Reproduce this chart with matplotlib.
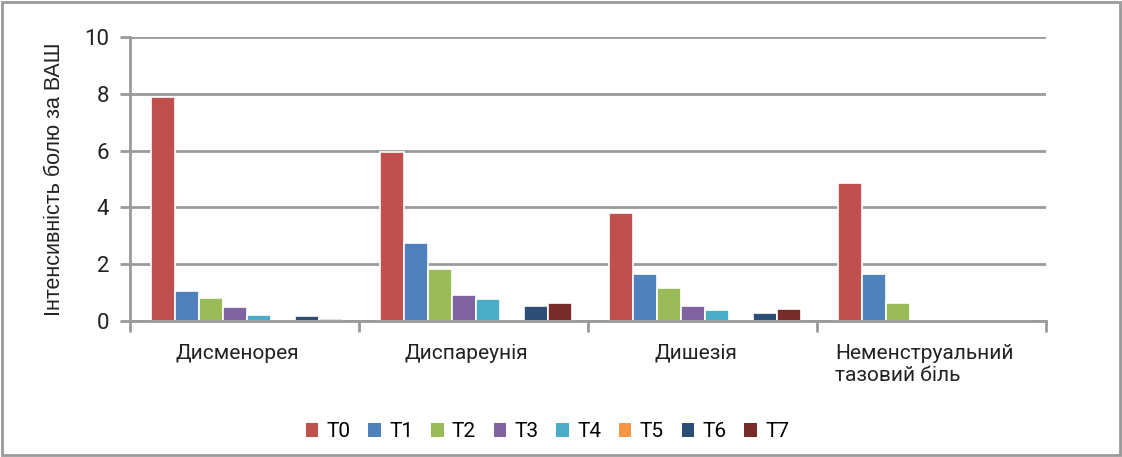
import matplotlib.pyplot as plt
import numpy as np
from matplotlib.patches import Rectangle

# data
categories = ['Дисменорея', 'Диспареунія', 'Дишезія', 'Неменструальний\nтазовий біль']
series = ['T0', 'T1', 'T2', 'T3', 'T4', 'T5', 'T6', 'T7']
t0 = [7.9, 5.95, 3.8, 4.85]
t1 = [1.05, 2.75, 1.65, 1.65]
t2 = [0.8, 1.83, 1.16, 0.63]
t3 = [0.5, 0.92, 0.53, 0.05]
t4 = [0.21, 0.77, 0.39, 0.03]
t5 = [0.0, 0.0, 0.0, 0.0]
t6 = [0.17, 0.53, 0.28, 0.0]
t7 = [0.07, 0.63, 0.42, 0.0]
values = [t0, t1, t2, t3, t4, t5, t6, t7]
colors = ['#C0504D', '#4F81BD', '#9BBB59', '#8064A2', '#4BACC6', '#F79646', '#2C4D75', '#772C2A']

tick_font = 'Roboto'
grey = '#9a9a9a'

fig = plt.figure(figsize=(11.22, 4.57), dpi=100)
ax = fig.add_axes([0.1159, 0.2976, 0.8164, 0.6214])

# outer frame
fig.patches.append(Rectangle((0.002, 0.004), 0.996, 0.992, transform=fig.transFigure,
                             fill=False, edgecolor=grey, linewidth=2))

x = np.arange(len(categories))
w = 0.105
for i, (name, vals) in enumerate(zip(series, values)):
    ax.bar(x + (i - 3.5) * w + 0.01, vals, w, color=colors[i], edgecolor='white',
           linewidth=1.2, label=name, zorder=2)

ax.set_xlim(-0.5, len(categories) - 0.5)
ax.set_ylim(0, 10)
ax.set_yticks([0, 2, 4, 6, 8, 10])
ax.yaxis.grid(True, color=grey, linewidth=2, zorder=0)
ax.set_axisbelow(True)

ax.set_xticks(np.arange(-0.5, len(categories)), minor=False)
ax.set_xticklabels([])
ax.tick_params(axis='x', direction='out', length=8, color=grey, width=2)
for xi, label in zip(x, categories):
    ax.text(xi - 0.03, -0.8, label, ha='center', va='top', multialignment='left',
            fontsize=15, family=tick_font, color='#222222', transform=ax.transData)

ax.tick_params(axis='y', direction='out', length=7, color=grey, width=2,
               labelsize=16, pad=8)
for t in ax.get_yticklabels():
    t.set_family(tick_font)
    t.set_color('#222222')

for s in ['top', 'right']:
    ax.spines[s].set_visible(False)
for s in ['left', 'bottom']:
    ax.spines[s].set_color(grey)
    ax.spines[s].set_linewidth(2)
    ax.spines[s].set_zorder(3)

ax.set_ylabel('Інтенсивність болю за ВАШ', fontsize=15.5, family='Liberation Sans',
              color='#222222', labelpad=14)

handles, labels = ax.get_legend_handles_labels()
leg = fig.legend(handles, labels, loc='center', bbox_to_anchor=(0.488, 0.055), ncol=8,
                 frameon=False, prop={'family': tick_font, 'size': 15},
                 handlelength=0.6, handleheight=0.6, handletextpad=0.4, columnspacing=0.85)
for h in leg.legend_handles:
    h.set_edgecolor('none')

fig.savefig('out.png', dpi=100)
